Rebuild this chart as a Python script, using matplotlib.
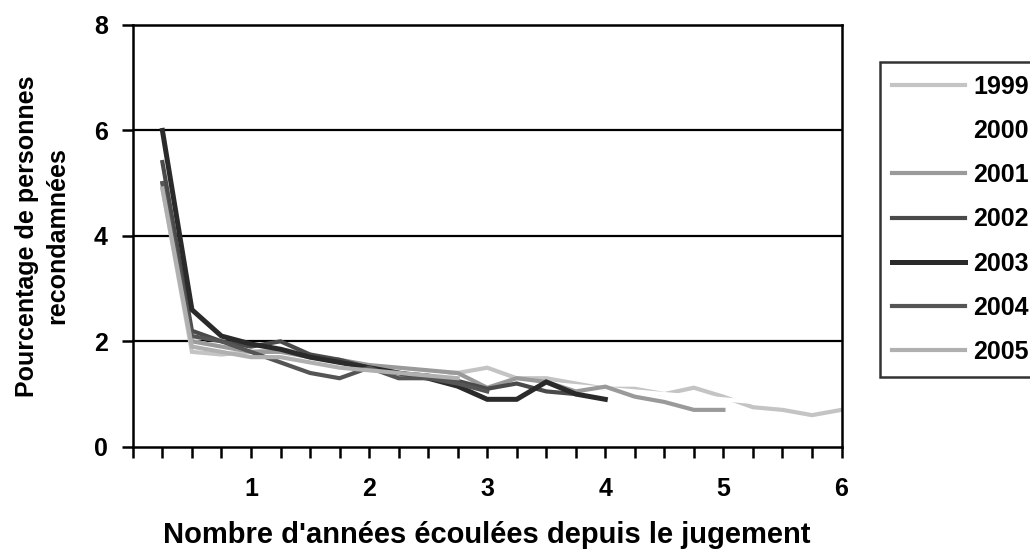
import matplotlib
matplotlib.use("Agg")
import matplotlib.pyplot as plt
import numpy as np

plt.rcParams["font.family"] = ["Liberation Sans", "DejaVu Sans"]
plt.rcParams["font.weight"] = "bold"

# Séries par année de jugement (points trimestriels à partir de 0.25 an)
annees = ["1999", "2000", "2001", "2002", "2003", "2004", "2005"]
y1999 = [4.9, 1.8, 1.75, 1.8, 1.85, 1.75, 1.6, 1.5, 1.45, 1.4, 1.4, 1.5,
         1.3, 1.3, 1.2, 1.1, 1.1, 1.0, 1.12, 0.95, 0.75, 0.7, 0.6, 0.7]
y2000 = [5.2, 2.0, 1.9, 1.8, 1.7, 1.6, 1.55, 1.5, 1.45, 1.4, 1.3, 1.3,
         1.25, 1.2, 1.15, 1.1, 1.05, 1.0, 0.95, 0.9, 0.85, 0.8]
y2001 = [5.0, 2.0, 1.9, 1.8, 1.8, 1.7, 1.65, 1.55, 1.5, 1.45, 1.4, 1.12,
         1.3, 1.23, 1.05, 1.14, 0.95, 0.85, 0.7, 0.7]
y2002 = [5.4, 2.2, 2.0, 1.9, 2.0, 1.75, 1.65, 1.5, 1.4, 1.35, 1.25, 1.1,
         1.2, 1.05, 1.0]
y2003 = [6.0, 2.6, 2.1, 1.95, 1.85, 1.7, 1.6, 1.5, 1.4, 1.3, 1.15, 0.9,
         0.9, 1.23, 1.0, 0.9]
y2004 = [5.0, 2.1, 2.0, 1.8, 1.6, 1.4, 1.3, 1.5, 1.3, 1.3, 1.2, 1.05]
y2005 = [4.9, 1.9, 1.8, 1.7, 1.7, 1.6, 1.5, 1.45, 1.4, 1.35, 1.3]

series = [y1999, y2000, y2001, y2002, y2003, y2004, y2005]
couleurs = ["#c4c4c4", "#ffffff", "#9a9a9a", "#4a4a4a", "#2a2a2a", "#555555", "#b0b0b0"]
epaisseurs = [3.0, 3.0, 3.0, 3.0, 3.6, 3.0, 3.0]

fig = plt.figure(figsize=(10.3, 5.55), dpi=100)
ax = fig.add_axes([0.129, 0.195, 0.688, 0.76])

for nom, vals, c, lw in zip(annees, series, couleurs, epaisseurs):
    x = np.arange(1, len(vals) + 1) * 0.25
    ax.plot(x, vals, color=c, lw=lw, label=nom, solid_joinstyle="miter")

ax.set_xlim(0, 6)
ax.set_ylim(0, 8)
ax.set_xticks(np.arange(0, 6.01, 0.25))
ax.set_xticklabels(["" if (t == 0 or t % 1) else str(int(t)) for t in np.arange(0, 6.01, 0.25)])
ax.set_yticks([0, 2, 4, 6, 8])
ax.tick_params(axis="both", direction="out", length=8, width=1.8, labelsize=18, colors="black")
ax.tick_params(axis="x", pad=14)
ax.tick_params(axis="y", pad=10)
for lab in ax.get_xticklabels() + ax.get_yticklabels():
    lab.set_fontweight("bold")

for v in [2, 4, 6]:
    ax.axhline(v, color="black", lw=1.6, zorder=0)
for s in ["left", "bottom", "right", "top"]:
    ax.spines[s].set_linewidth(1.8)
    ax.spines[s].set_color("black")

ax.set_xlabel("Nombre d'années écoulées depuis le jugement", fontsize=21,
              fontweight="bold", labelpad=14)
ax.set_ylabel("Pourcentage de personnes\nrecondamnées", fontsize=18,
              fontweight="bold", labelpad=18, linespacing=1.3)

leg = fig.legend(loc="upper left", bbox_to_anchor=(0.854, 0.888),
                 frameon=True, fancybox=False, edgecolor="black",
                 fontsize=18, handlelength=2.9, handletextpad=0.35,
                 labelspacing=0.81, borderpad=0.5, borderaxespad=0)
leg.get_frame().set_linewidth(1.8)
for t in leg.get_texts():
    t.set_fontweight("bold")

fig.savefig("out.png", dpi=100)
